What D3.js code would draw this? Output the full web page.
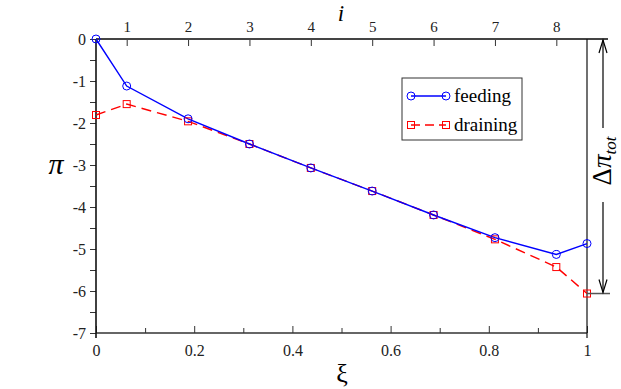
<!DOCTYPE html>
<html>
<head>
<meta charset="utf-8">
<script src="https://cdn.jsdelivr.net/npm/d3@7"></script>
<style>
  body { margin: 0; background: #fff; }
  text { font-family: "Liberation Serif", "DejaVu Serif", serif; }
</style>
</head>
<body>
<svg id="chart" width="621" height="389"></svg>
<script>
'use strict';

// data
var xi       = [0, 0.0625, 0.1875, 0.3125, 0.4375, 0.5625, 0.6875, 0.8125, 0.9375, 1];
var feeding  = [0, -1.12, -1.90, -2.50, -3.07, -3.62, -4.19, -4.73, -5.13, -4.87];
var draining = [-1.81, -1.55, -1.96, -2.50, -3.07, -3.62, -4.19, -4.77, -5.43, -6.06];
var xTicks   = [0, 0.2, 0.4, 0.6, 0.8, 1];
var yTicks   = [0, -1, -2, -3, -4, -5, -6, -7];
var iTicks   = [1, 2, 3, 4, 5, 6, 7, 8];

(function() {
var svg = d3.select("#chart");
var pLeft = 96, pRight = 587, pTop = 39, pBottom = 333;
var serif = "'Liberation Serif', 'DejaVu Serif', serif";

var x = d3.scaleLinear().domain([0, 1]).range([pLeft, pRight]);
var y = d3.scaleLinear().domain([0, -7]).range([pTop, pBottom]);
// top axis: cell index i sits at xi = (i - 0.5) / 8
var iScale = d3.scaleLinear().domain([0.5, 8.5]).range([x(0), x(1)]);

// bottom axis, ticks inward
var xAxis = svg.append("g")
    .attr("transform", "translate(0," + pBottom + ")")
    .call(d3.axisBottom(x).tickValues(d3.range(0, 1.001, 0.1)).tickSize(-7)
        .tickFormat(function(d) { return xTicks.some(function(t) { return Math.abs(t - d) < 1e-6; }) ? d3.format("")(+d.toFixed(1)) : ""; }))
    .attr("font-family", serif);
xAxis.selectAll(".tick line").attr("stroke", "#333").attr("stroke-width", 1)
    .attr("y2", function(d, k) { return k % 2 ? -5 : -7; });
xAxis.selectAll(".tick text").attr("y", 12).attr("font-size", 16).attr("fill", "#222");
xAxis.select(".domain").remove();

// left axis, ticks outward
var yAxis = svg.append("g")
    .attr("transform", "translate(" + pLeft + ",0)")
    .call(d3.axisLeft(y).tickValues(d3.range(0, -7.001, -0.5)).tickSize(6)
        .tickFormat(function(d) { return yTicks.indexOf(d) >= 0 ? d : ""; }))
    .attr("font-family", serif);
yAxis.selectAll(".tick line").attr("stroke", "#333").attr("stroke-width", 1);
yAxis.selectAll(".tick text").attr("x", -10).attr("font-size", 16).attr("fill", "#222");
yAxis.select(".domain").remove();

// top axis (i), ticks inward
var iAxis = svg.append("g")
    .attr("transform", "translate(0," + pTop + ")")
    .call(d3.axisTop(iScale).tickValues(iTicks).tickSize(-7))
    .attr("font-family", serif);
iAxis.selectAll(".tick line").attr("stroke", "#333").attr("stroke-width", 1);
iAxis.selectAll(".tick text").attr("y", -7).attr("font-size", 15).attr("fill", "#222");
iAxis.select(".domain").remove();

// frame
svg.append("line").attr("x1", pLeft).attr("x2", pRight + 21).attr("y1", pTop).attr("y2", pTop)
    .attr("stroke", "#444").attr("stroke-width", 2);
svg.append("line").attr("x1", pLeft).attr("x2", pRight).attr("y1", pBottom).attr("y2", pBottom)
    .attr("stroke", "#333").attr("stroke-width", 1.6);
svg.append("line").attr("x1", pLeft).attr("x2", pLeft).attr("y1", pTop).attr("y2", pBottom + 5)
    .attr("stroke", "#111").attr("stroke-width", 1.6);
svg.append("line").attr("x1", pRight).attr("x2", pRight).attr("y1", pTop).attr("y2", pBottom + 5)
    .attr("stroke", "#111").attr("stroke-width", 1.2);

// series
var pts = function(vals) { return xi.map(function(d, k) { return [d, vals[k]]; }); };
var line = d3.line().x(function(d) { return x(d[0]); }).y(function(d) { return y(d[1]); });

svg.append("path").datum(pts(draining)).attr("d", line)
    .attr("fill", "none").attr("stroke", "#ff0000").attr("stroke-width", 1.4)
    .attr("stroke-dasharray", "10,6");
svg.append("path").datum(pts(feeding)).attr("d", line)
    .attr("fill", "none").attr("stroke", "#0000ff").attr("stroke-width", 1.4);

svg.selectAll(".sq").data(pts(draining)).enter().append("rect")
    .attr("x", function(d) { return x(d[0]) - 3.5; })
    .attr("y", function(d) { return y(d[1]) - 3.5; })
    .attr("width", 7).attr("height", 7)
    .attr("fill", "none").attr("stroke", "#ff0000").attr("stroke-width", 1);
svg.selectAll(".ci").data(pts(feeding)).enter().append("circle")
    .attr("cx", function(d) { return x(d[0]); })
    .attr("cy", function(d) { return y(d[1]); })
    .attr("r", 4)
    .attr("fill", "none").attr("stroke", "#0000ff").attr("stroke-width", 1);

// axis titles
svg.append("text").attr("x", 56).attr("y", 174).attr("text-anchor", "middle")
    .attr("font-size", 30).attr("font-style", "italic").text("π");
svg.append("text").attr("x", 342).attr("y", 382).attr("text-anchor", "middle")
    .attr("font-size", 26).text("ξ");
svg.append("text").attr("x", 341).attr("y", 21).attr("text-anchor", "middle")
    .attr("font-size", 23).attr("font-style", "italic").text("i");

// legend
var lg = svg.append("g").attr("transform", "translate(402,78)");
lg.append("rect").attr("width", 120).attr("height", 62)
    .attr("fill", "#fff").attr("stroke", "#333").attr("stroke-width", 1);
var items = [
  { name: "feeding", color: "#0000ff", dash: null, shape: "circle" },
  { name: "draining", color: "#ff0000", dash: "9,5", shape: "rect" }
];
items.forEach(function(it, k) {
  var yy = 18 + k * 29;
  lg.append("line").attr("x1", 9).attr("x2", 44).attr("y1", yy).attr("y2", yy)
      .attr("stroke", it.color).attr("stroke-width", 1.4).attr("stroke-dasharray", it.dash);
  [9, 44].forEach(function(xx) {
    if (it.shape === "circle") {
      lg.append("circle").attr("cx", xx).attr("cy", yy).attr("r", 4)
          .attr("fill", "none").attr("stroke", it.color);
    } else {
      lg.append("rect").attr("x", xx - 3.5).attr("y", yy - 3.5).attr("width", 7).attr("height", 7)
          .attr("fill", "none").attr("stroke", it.color);
    }
  });
  lg.append("text").attr("x", 52).attr("y", yy + 6).attr("font-size", 19).text(it.name);
});

// total drop annotation
var yEnd = y(draining[draining.length - 1]);
svg.append("line").attr("x1", pRight).attr("x2", pRight + 23).attr("y1", yEnd).attr("y2", yEnd)
    .attr("stroke", "#555").attr("stroke-width", 1.5);
var ax = 603;
svg.append("line").attr("x1", ax).attr("x2", ax).attr("y1", pTop + 1).attr("y2", 128)
    .attr("stroke", "#000").attr("stroke-width", 1.2);
svg.append("line").attr("x1", ax).attr("x2", ax).attr("y1", 202).attr("y2", yEnd - 1)
    .attr("stroke", "#000").attr("stroke-width", 1.2);
svg.append("path").attr("d", "M" + (ax - 4) + "," + (pTop + 14) + "L" + ax + "," + (pTop + 1) + "L" + (ax + 4) + "," + (pTop + 14))
    .attr("fill", "none").attr("stroke", "#000").attr("stroke-width", 1.2);
svg.append("path").attr("d", "M" + (ax - 4) + "," + (yEnd - 14) + "L" + ax + "," + (yEnd - 1) + "L" + (ax + 4) + "," + (yEnd - 14))
    .attr("fill", "none").attr("stroke", "#000").attr("stroke-width", 1.2);
var lab = svg.append("text").attr("transform", "translate(611,161) rotate(-90)")
    .attr("text-anchor", "middle").attr("font-size", 27);
lab.append("tspan").text("Δ");
lab.append("tspan").attr("font-style", "italic").text("π");
lab.append("tspan").attr("font-style", "italic").attr("font-size", 17).attr("dy", 5).text("tot");
})();
</script>
</body>
</html>
